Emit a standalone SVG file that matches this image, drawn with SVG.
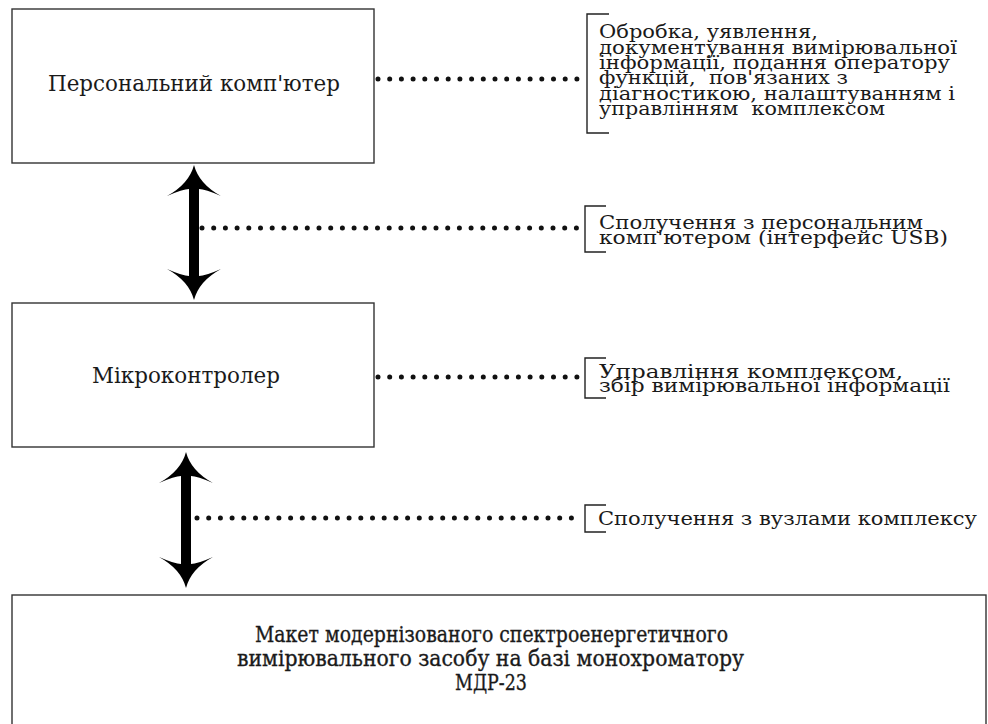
<svg xmlns="http://www.w3.org/2000/svg" width="988" height="724" viewBox="0 0 988 724">
  <style>
    .box { fill: #ffffff; stroke: #333333; stroke-width: 1.4; }
    text { font-family: 'DejaVu Serif', 'Liberation Serif', serif; fill: #1a1a1a; }
    .node { font-size: 23px; }
    .note { font-size: 19px; }
    .main { font-size: 22px; stroke: #1a1a1a; stroke-width: 0.35; }
    .dots { fill: none; stroke: #111111; stroke-width: 5; stroke-linecap: round; stroke-dasharray: 0 11.7; }
    .brk { fill: none; stroke: #222222; stroke-width: 1.4; }
    .arr { fill: #000000; stroke: none; }
  </style>
  <rect width="988" height="724" fill="#ffffff"/>

  <g id="connectors">
    <line class="dots" x1="378" y1="79" x2="577" y2="79"/>
    <line class="dots" x1="202" y1="228" x2="577" y2="228"/>
    <line class="dots" x1="378" y1="377" x2="577" y2="377"/>
    <line class="dots" x1="197" y1="518" x2="577" y2="518"/>
    <path class="arr" d="M194,165 Q199,184 221,196 Q205,189 199,189 L199,276 Q205,276 221,269 Q199,281 194,300 Q189,281 167,269 Q183,276 189,276 L189,189 Q183,189 167,196 Q189,184 194,165 Z"/>
    <path class="arr" d="M186,452 Q191,471 213,483 Q197,476 191,476 L191,564 Q197,564 213,557 Q191,569 186,588 Q181,569 159,557 Q175,564 181,564 L181,476 Q175,476 159,483 Q181,471 186,452 Z"/>
  </g>

  <g id="node-pc">
    <rect class="box" x="12" y="9" width="362" height="154"/>
    <text class="node" x="48" y="91" textLength="292" lengthAdjust="spacingAndGlyphs">Персональний комп'ютер</text>
  </g>

  <g id="node-mcu">
    <rect class="box" x="12" y="303" width="362" height="144"/>
    <text class="node" x="92" y="383" textLength="188" lengthAdjust="spacingAndGlyphs">Мікроконтролер</text>
  </g>

  <g id="node-model">
    <rect class="box" x="12" y="595" width="974" height="140"/>
    <text class="main" x="255" y="642" textLength="473" lengthAdjust="spacingAndGlyphs">Макет модернізованого спектроенергетичного</text>
    <text class="main" x="237" y="666" textLength="507" lengthAdjust="spacingAndGlyphs">вимірювального засобу на базі монохроматору</text>
    <text class="main" x="455" y="690" textLength="72" lengthAdjust="spacingAndGlyphs">МДР-23</text>
  </g>

  <g id="note-pc">
    <path class="brk" d="M609,14 H587 V133 H609"/>
    <text class="note" x="599" y="38" textLength="219" lengthAdjust="spacingAndGlyphs">Обробка, уявлення,</text>
    <text class="note" x="599" y="54" textLength="358" lengthAdjust="spacingAndGlyphs">документування вимірювальної</text>
    <text class="note" x="599" y="69" textLength="351" lengthAdjust="spacingAndGlyphs">інформації, подання оператору</text>
    <text class="note" x="599" y="84" textLength="249" lengthAdjust="spacingAndGlyphs" xml:space="preserve">функцій,  пов'язаних з</text>
    <text class="note" x="599" y="100" textLength="356" lengthAdjust="spacingAndGlyphs">діагностикою, налаштуванням і</text>
    <text class="note" x="599" y="115" textLength="286" lengthAdjust="spacingAndGlyphs" xml:space="preserve">управлінням  комплексом</text>
  </g>

  <g id="note-usb">
    <path class="brk" d="M606,206 H585 V252 H606"/>
    <text class="note" x="599" y="229" textLength="324" lengthAdjust="spacingAndGlyphs">Сполучення з персональним</text>
    <text class="note" x="599" y="244" textLength="349" lengthAdjust="spacingAndGlyphs">комп'ютером (інтерфейс USB)</text>
  </g>

  <g id="note-mcu">
    <path class="brk" d="M606,358 H585 V398 H606"/>
    <text class="note" x="599" y="378" textLength="304" lengthAdjust="spacingAndGlyphs">Управління комплексом,</text>
    <text class="note" x="599" y="392" textLength="351" lengthAdjust="spacingAndGlyphs">збір вимірювальної інформації</text>
  </g>

  <g id="note-nodes">
    <path class="brk" d="M606,505 H585 V532 H606"/>
    <text class="note" x="598" y="525" textLength="379" lengthAdjust="spacingAndGlyphs">Сполучення з вузлами комплексу</text>
  </g>
</svg>
